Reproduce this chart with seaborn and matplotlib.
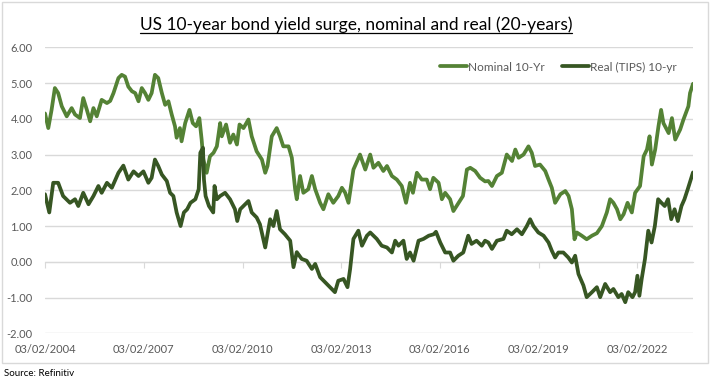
import matplotlib
matplotlib.use("Agg")
import matplotlib.pyplot as plt
import matplotlib.dates as mdates
from matplotlib.lines import Line2D
from matplotlib.patches import Rectangle
import pandas as pd
import seaborn as sns

# %%
# Valores (año decimal, rendimiento %)
nominal_years = [
    2004.09, 2004.19, 2004.29, 2004.39, 2004.49, 2004.60, 2004.75, 2004.90, 2005.00, 2005.15,
    2005.25, 2005.36, 2005.46, 2005.56, 2005.66, 2005.81, 2005.97, 2006.07, 2006.17, 2006.32,
    2006.42, 2006.52, 2006.62, 2006.73, 2006.83, 2006.93, 2007.03, 2007.13, 2007.23, 2007.33,
    2007.43, 2007.53, 2007.64, 2007.74, 2007.84, 2007.94, 2008.04, 2008.09, 2008.19, 2008.24,
    2008.35, 2008.48, 2008.58, 2008.68, 2008.78, 2008.85, 2008.90, 2009.00, 2009.10, 2009.21,
    2009.31, 2009.41, 2009.46, 2009.59, 2009.71, 2009.81, 2009.92, 2010.00, 2010.12, 2010.27,
    2010.37, 2010.52, 2010.68, 2010.78, 2010.85, 2010.98, 2011.13, 2011.23, 2011.33, 2011.49,
    2011.59, 2011.69, 2011.74, 2011.84, 2011.94, 2012.09, 2012.20, 2012.30, 2012.45, 2012.55,
    2012.70, 2012.85, 2013.00, 2013.11, 2013.21, 2013.31, 2013.46, 2013.66, 2013.82, 2013.97,
    2014.07, 2014.22, 2014.37, 2014.48, 2014.63, 2014.78, 2014.93, 2015.06, 2015.18, 2015.27,
    2015.39, 2015.54, 2015.69, 2015.79, 2015.89, 2016.05, 2016.15, 2016.25, 2016.40, 2016.50,
    2016.66, 2016.79, 2016.91, 2017.01, 2017.16, 2017.31, 2017.46, 2017.56, 2017.67, 2017.82,
    2017.97, 2018.12, 2018.28, 2018.38, 2018.48, 2018.63, 2018.78, 2018.88, 2018.98, 2019.13,
    2019.29, 2019.39, 2019.49, 2019.59, 2019.75, 2019.90, 2020.00, 2020.10, 2020.18, 2020.25,
    2020.40, 2020.55, 2020.71, 2020.86, 2021.01, 2021.16, 2021.26, 2021.36, 2021.47, 2021.57,
    2021.67, 2021.79, 2021.92, 2022.02, 2022.17, 2022.28, 2022.38, 2022.46, 2022.53, 2022.63,
    2022.73, 2022.81, 2022.88, 2023.04, 2023.14, 2023.24, 2023.39, 2023.49, 2023.64, 2023.69,
    2023.78,
]
nominal_yield = [
    4.15, 3.74, 4.25, 4.86, 4.72, 4.35, 4.07, 4.30, 4.12, 4.02,
    4.58, 4.25, 3.93, 4.30, 4.07, 4.53, 4.44, 4.50, 4.72, 5.14,
    5.23, 5.18, 4.90, 4.77, 4.72, 4.49, 4.86, 4.72, 4.53, 4.72,
    5.23, 5.14, 4.72, 4.39, 4.49, 4.12, 3.79, 3.47, 3.74, 3.37,
    3.88, 4.25, 3.88, 3.79, 4.02, 3.42, 2.86, 2.49, 2.95, 3.05,
    3.23, 3.88, 3.51, 3.84, 3.33, 3.56, 3.28, 3.84, 3.74, 3.98,
    3.51, 3.09, 2.86, 2.49, 2.68, 3.51, 3.74, 3.51, 3.23, 3.23,
    2.91, 2.03, 1.75, 2.40, 1.93, 2.03, 2.40, 2.03, 1.65, 1.47,
    1.89, 1.65, 1.84, 2.07, 1.93, 1.65, 2.58, 3.00, 2.58, 3.00,
    2.63, 2.77, 2.54, 2.68, 2.40, 2.30, 2.12, 1.65, 2.21, 1.93,
    2.49, 2.30, 2.30, 2.03, 2.35, 2.21, 1.75, 1.93, 1.75, 1.42,
    1.65, 1.84, 2.58, 2.63, 2.54, 2.35, 2.25, 2.26, 2.12, 2.40,
    2.49, 3.00, 2.82, 3.14, 2.91, 3.00, 3.23, 3.05, 2.68, 2.72,
    2.54, 2.30, 2.07, 1.65, 1.89, 1.98, 1.84, 1.47, 0.63, 0.82,
    0.73, 0.63, 0.73, 0.80, 1.00, 1.38, 1.75, 1.65, 1.47, 1.19,
    1.33, 1.65, 1.38, 1.93, 2.12, 2.95, 3.14, 3.51, 2.72, 3.14,
    3.79, 4.25, 3.88, 3.60, 4.02, 3.42, 3.70, 3.98, 4.35, 4.72,
    4.98,
]
real_years = [
    2004.09, 2004.22, 2004.34, 2004.49, 2004.64, 2004.85, 2005.00, 2005.10, 2005.25, 2005.41,
    2005.56, 2005.71, 2005.81, 2005.97, 2006.12, 2006.32, 2006.47, 2006.62, 2006.78, 2006.93,
    2007.08, 2007.23, 2007.33, 2007.43, 2007.53, 2007.64, 2007.79, 2007.89, 2007.99, 2008.09,
    2008.21, 2008.31, 2008.41, 2008.51, 2008.66, 2008.76, 2008.81, 2008.89, 2008.92, 2008.97,
    2009.07, 2009.20, 2009.24, 2009.31, 2009.41, 2009.56, 2009.71, 2009.86, 2009.93, 2010.02,
    2010.17, 2010.27, 2010.37, 2010.52, 2010.62, 2010.78, 2010.93, 2011.03, 2011.13, 2011.23,
    2011.38, 2011.54, 2011.64, 2011.74, 2011.89, 2012.04, 2012.20, 2012.30, 2012.45, 2012.60,
    2012.75, 2012.90, 2013.00, 2013.16, 2013.28, 2013.36, 2013.46, 2013.61, 2013.72, 2013.87,
    2013.97, 2014.17, 2014.32, 2014.48, 2014.63, 2014.73, 2014.83, 2014.98, 2015.08, 2015.18,
    2015.29, 2015.44, 2015.59, 2015.75, 2015.90, 2015.97, 2016.10, 2016.25, 2016.40, 2016.50,
    2016.65, 2016.80, 2016.95, 2017.05, 2017.20, 2017.36, 2017.46, 2017.56, 2017.67, 2017.82,
    2018.02, 2018.12, 2018.27, 2018.43, 2018.58, 2018.73, 2018.83, 2018.93, 2019.08, 2019.24,
    2019.39, 2019.49, 2019.59, 2019.69, 2019.84, 2019.99, 2020.10, 2020.20, 2020.30, 2020.45,
    2020.55, 2020.71, 2020.86, 2020.96, 2021.11, 2021.26, 2021.36, 2021.51, 2021.61, 2021.72,
    2021.81, 2021.94, 2022.02, 2022.09, 2022.15, 2022.22, 2022.32, 2022.42, 2022.52, 2022.62,
    2022.72, 2022.82, 2022.92, 2023.02, 2023.12, 2023.22, 2023.32, 2023.43, 2023.52, 2023.62,
    2023.78,
]
real_yield = [
    1.89, 1.38, 2.21, 2.21, 1.84, 1.65, 1.75, 1.56, 1.93, 1.61,
    1.84, 2.12, 1.93, 2.21, 2.07, 2.49, 2.69, 2.30, 2.53, 2.40,
    2.53, 2.21, 2.35, 2.86, 2.68, 2.44, 2.26, 1.93, 1.84, 1.38,
    1.00, 1.38, 1.47, 1.65, 1.75, 2.03, 3.05, 3.19, 2.30, 1.84,
    1.56, 1.38, 2.12, 1.75, 1.84, 1.93, 1.75, 1.47, 1.14, 1.47,
    1.61, 1.70, 1.38, 1.24, 1.05, 0.40, 1.19, 1.00, 1.42, 0.91,
    0.77, 0.59, -0.15, 0.27, 0.08, 0.03, -0.20, -0.06, -0.43, -0.57,
    -0.71, -0.85, -0.53, -0.48, -0.71, -0.20, 0.64, 0.87, 0.45, 0.73,
    0.82, 0.64, 0.45, 0.40, 0.26, 0.59, 0.45, 0.59, 0.08, 0.26,
    0.03, 0.59, 0.64, 0.73, 0.77, 0.84, 0.54, 0.26, 0.26, 0.03,
    0.17, 0.26, 0.73, 0.50, 0.59, 0.45, 0.59, 0.54, 0.36, 0.59,
    0.64, 0.87, 0.77, 0.91, 0.77, 1.00, 1.19, 1.00, 0.82, 0.73,
    0.54, 0.31, 0.12, 0.26, 0.26, 0.12, -0.02, 0.17, -0.34, -0.66,
    -0.99, -0.85, -0.71, -0.99, -0.62, -0.85, -0.76, -0.99, -0.90, -1.13,
    -0.85, -0.99, -0.85, -0.39, -0.95, -0.48, 0.08, 0.87, 0.54, 1.00,
    1.75, 1.65, 1.56, 1.75, 1.19, 1.47, 1.14, 1.56, 1.75, 2.03,
    2.50,
]
series_names = ["Nominal 10-Yr", "Real (TIPS) 10-yr"]
tick_dates = ["2004-02-03", "2007-02-03", "2010-02-03", "2013-02-03",
              "2016-02-03", "2019-02-03", "2022-02-03"]
y_ticks = [-2, -1, 0, 1, 2, 3, 4, 5, 6]
titulo = "US 10-year bond yield surge, nominal and real (20-years)"
fuente = "Source: Refinitiv"

# %%
def a_fecha(y):
    y0 = int(y)
    return pd.Timestamp(f"{y0}-01-01") + pd.Timedelta(days=(y - y0) * 365.25)

df = pd.concat([
    pd.DataFrame({"fecha": [a_fecha(v) for v in nominal_years], "yield": nominal_yield,
                  "serie": series_names[0]}),
    pd.DataFrame({"fecha": [a_fecha(v) for v in real_years], "yield": real_yield,
                  "serie": series_names[1]}),
], ignore_index=True)

colores = {series_names[0]: "#548235", series_names[1]: "#375623"}
gris_grid = "#D9D9D9"
gris_txt = "#595959"

sns.set_style("white")
plt.rcParams["font.family"] = ["Lato", "DejaVu Sans"]

fig = plt.figure(figsize=(7.12, 3.81), dpi=100)
ax = fig.add_axes([45 / 712, 1 - 333.3 / 381, 648 / 712, 286 / 381])

sns.lineplot(data=df, x="fecha", y="yield", hue="serie", palette=colores,
             linewidth=2.7, estimator=None, sort=False, ax=ax)

ax.set_ylim(-2, 6)
ax.set_xlim(df["fecha"].min(), df["fecha"].max())
ax.set_yticks(y_ticks)
ax.set_yticklabels([f"{v:.2f}" for v in y_ticks])
ticks = pd.to_datetime(tick_dates)
ax.set_xticks(ticks)
ax.xaxis.set_major_formatter(mdates.DateFormatter("%d/%m/%Y"))
ax.set_xlabel("")
ax.set_ylabel("")
ax.grid(axis="y", color=gris_grid, linewidth=1)
ax.grid(axis="x", visible=False)
ax.set_axisbelow(True)
for s in ax.spines.values():
    s.set_visible(False)
ax.tick_params(axis="both", length=0, labelsize=8, labelcolor=gris_txt)
ax.tick_params(axis="x", pad=8)
ax.tick_params(axis="y", pad=9)

# eje en el cero con marcas de tick
sec = ax.secondary_xaxis(0.25)
sec.set_xticks(mdates.date2num(ticks))
sec.tick_params(axis="x", direction="out", length=4, color=gris_grid, labelbottom=False)
sec.spines["bottom"].set_color(gris_grid)

ax.legend(loc="center right", bbox_to_anchor=(0.982, 0.931), ncol=2, frameon=False,
          fontsize=8.5, handlelength=2.3, handletextpad=0.1, columnspacing=1.4,
          labelcolor=gris_txt, borderaxespad=0)

t = fig.text(0.5, 1 - 25 / 381, titulo, ha="center", va="center", fontsize=12.5, color="black")
fig.text(4 / 712, 1 - 374 / 381, fuente, ha="left", va="center", fontsize=7, color="black")

# borde del área del gráfico
fig.patches.append(Rectangle((2 / 712, 1 - 363 / 381), 706 / 712, 361 / 381,
                             transform=fig.transFigure, fill=False,
                             edgecolor=gris_grid, linewidth=1))

# subrayado del título
fig.canvas.draw()
bb = t.get_window_extent().transformed(fig.transFigure.inverted())
fig.add_artist(Line2D([bb.x0, bb.x1], [bb.y0 + 0.002, bb.y0 + 0.002],
                      transform=fig.transFigure, color="black", linewidth=0.9))

fig.savefig("out.png", dpi=100)
